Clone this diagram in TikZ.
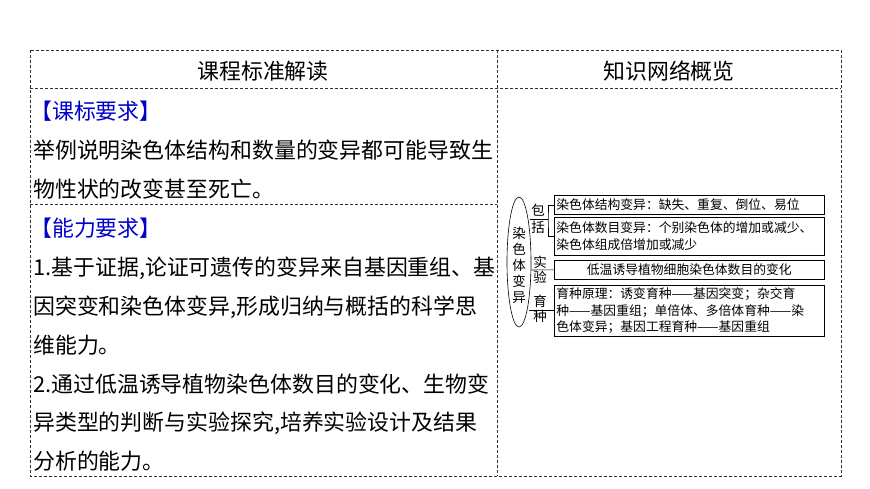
\documentclass[tikz,border=0pt]{standalone}
\usepackage{fontspec}
\setmainfont{Noto Sans CJK SC}
\usetikzlibrary{positioning}
\tikzset{
  grid/.style={densely dashed,line width=0.6pt,black!80},
  txt/.style={anchor=west,inner sep=0pt,font=\fontsize{21.9}{22}\selectfont},
  ttl/.style={txt,text=blue!80!black},
  netbox/.style={draw,line width=0.6pt,anchor=north west,inner sep=0pt,text width=270pt,font=\fontsize{12.8}{16.5}\selectfont},
  vlab/.style={inner sep=0pt,font=\fontsize{13.5}{15}\selectfont,align=center},
}
\begin{document}
\begin{tikzpicture}[x=1pt,y=-1pt]
  \useasboundingbox (0,0) rectangle (870,488);
  % table
  \draw[grid] (30,50) rectangle (841,476);
  \draw[grid] (497,50) -- (497,476);
  \draw[grid] (30,88) -- (841,88);
  \draw[grid] (30,204) -- (497,204);
  \node[txt,anchor=center] (h1) at (263,71) {课程标准解读};
  \node[txt,anchor=center] (h2) at (669,71) {知识网络概览};
  % left column
  \node[ttl] (t1) at (30,111) {【课标要求】};
  \node[txt] (a1) at (33,150) {举例说明染色体结构和数量的变异都可能导致生};
  \node[txt] (a2) at (33,189) {物性状的改变甚至死亡。};
  \node[ttl] (t2) at (30,228) {【能力要求】};
  \node[txt] (b1) at (33,268) {1.基于证据,论证可遗传的变异来自基因重组、基};
  \node[txt] (b2) at (33,307) {因突变和染色体变异,形成归纳与概括的科学思};
  \node[txt] (b3) at (33,345) {维能力。};
  \node[txt] (b4) at (33,384) {2.通过低温诱导植物染色体数目的变化、生物变};
  \node[txt] (b5) at (33,423) {异类型的判断与实验探究,培养实验设计及结果};
  \node[txt] (b6) at (33,461) {分析的能力。};
  % knowledge network
  \draw[line width=0.6pt] (519,262) ellipse (12 and 65);
  \node[vlab] (root) at (519,265) {染\\[1pt]色\\[1pt]体\\[1pt]变\\[1pt]异};
  \node[netbox,minimum height=19pt] (n1) at (554,195) {\,染色体结构变异：缺失、重复、倒位、易位};
  \node[netbox,minimum height=38pt,align=left] (n2) at (554,217) {\,染色体数目变异：个别染色体的增加或减少、\\\,染色体组成倍增加或减少};
  \node[netbox,minimum height=19pt,align=center] (n3) at (554,260) {低温诱导植物细胞染色体数目的变化};
  \node[netbox,minimum height=51pt,align=left] (n4) at (554,285) {\,育种原理：诱变育种——基因突变；杂交育\\\,种——基因重组；单倍体、多倍体育种——染\\\,色体变异；基因工程育种——基因重组};
  \node[vlab] (l1) at (538,219) {包\\[2pt]括};
  \node[vlab] (l2) at (540,270) {实\\[0pt]验};
  \node[vlab] (l3) at (540,309) {育\\[0pt]种};
  \coordinate (k1) at (548,219);
  \draw[line width=0.6pt] (530,219) -- (k1);
  \draw[line width=0.6pt] (n1.west) -| (k1) |- (n2.west);
  \draw[line width=0.6pt] (531,270) -- (n3.west);
  \draw[line width=0.6pt] (529,310) -- (n4.west |- 0,310);
\end{tikzpicture}
\end{document}
